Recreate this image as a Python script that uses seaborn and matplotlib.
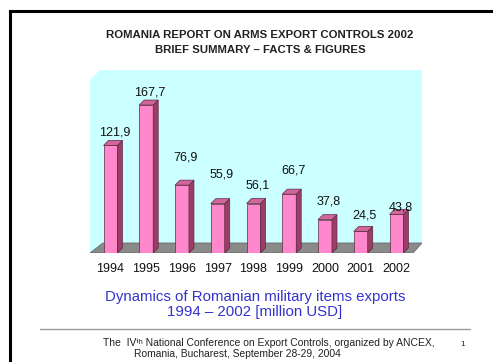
import matplotlib
matplotlib.use("Agg")
import matplotlib.pyplot as plt
from matplotlib.patches import Polygon
from matplotlib.lines import Line2D
import seaborn as sns
import pandas as pd

# values (million USD, comma decimals on the labels)
years = ["1994", "1995", "1996", "1997", "1998", "1999", "2000", "2001", "2002"]
exports = [121.9, 167.7, 76.9, 55.9, 56.1, 66.7, 37.8, 24.5, 43.8]
value_labels = ["121,9", "167,7", "76,9", "55,9", "56,1", "66,7", "37,8", "24,5", "43,8"]

# how far (px) each value label sits above its bar, like the excel slide
label_lift = [13, 13, 28, 29, 18, 24, 18, 16, 7]

df = pd.DataFrame({"year": years, "exports": exports})

W, H = 493, 362
sns.set_style("white")
plt.rcParams["font.family"] = ["Liberation Sans", "DejaVu Sans"]

fig = plt.figure(figsize=(W / 100, H / 100), dpi=100)

# axes box in pixels (the cyan back wall)
ax_l, ax_r, ax_t, ax_b = 90, 422, 70, 253
ax = fig.add_axes([ax_l / W, 1 - ax_b / H, (ax_r - ax_l) / W, (ax_b - ax_t) / H])
ax.set_facecolor("none")
aw, ah = ax_r - ax_l, ax_b - ax_t

# back wall with the cut top-left corner
wall = Polygon([(0, 0), (0, (ah - 10) / ah), (10 / aw, 1), (1, 1), (1, 10 / ah)],
               closed=True, transform=ax.transAxes, facecolor="#CCFFFF",
               edgecolor="none", zorder=0)
ax.add_patch(wall)

# grey floor
floor = Polygon([(0, 0), ((aw - 9) / aw, 0), (1, 10 / ah), (13 / aw, 10 / ah)],
                closed=True, transform=ax.transAxes, facecolor="#8A8A8A",
                edgecolor="#6A6A6A", lw=0.6, zorder=1)
ax.add_patch(floor)

sns.barplot(data=df, x="year", y="exports", color="#FF88CC", saturation=1,
            width=0.39, edgecolor="#5A2A40", linewidth=0.5, ax=ax, zorder=3)

ax.set_xlim(-0.573, 8.713)
ax.set_ylim(0, 207.4)

# 3d side and top faces
ux = (8.713 + 0.573) / aw
uy = 207.4 / ah
dx, dy = 5 * ux, 5 * uy
for bar in list(ax.patches[2:]):
    x0 = bar.get_x()
    x1 = x0 + bar.get_width()
    h = bar.get_height()
    side = Polygon([(x1, 0), (x1 + dx, dy), (x1 + dx, h + dy), (x1, h)], closed=True,
                   facecolor="#9C3D68", edgecolor="#5A2A40", lw=0.5, zorder=3)
    top = Polygon([(x0, h), (x0 + dx, h + dy), (x1 + dx, h + dy), (x1, h)], closed=True,
                  facecolor="#D0669A", edgecolor="#5A2A40", lw=0.5, zorder=3)
    ax.add_patch(side)
    ax.add_patch(top)

for i, (v, lab) in enumerate(zip(exports, value_labels)):
    ax.annotate(lab, (i, v), xytext=(4, label_lift[i]), textcoords="offset pixels",
                ha="center", va="center", fontsize=9, color="#111111", zorder=5)

sns.despine(ax=ax, left=True, bottom=True)
ax.set_xlabel("")
ax.set_ylabel("")
ax.set_yticks([])
ax.tick_params(axis="x", length=0, pad=7.5, labelsize=9, labelcolor="#111111")

# slide titles
fig.text(260 / W, 1 - 35 / H, "ROMANIA REPORT ON ARMS EXPORT CONTROLS 2002",
         ha="center", va="center", fontsize=8.2, fontweight="bold", color="#222222")
fig.text(260 / W, 1 - 50 / H, "BRIEF SUMMARY \u2013 FACTS & FIGURES",
         ha="center", va="center", fontsize=8.2, fontweight="bold", color="#222222")

fig.text(255 / W, 1 - 297 / H, "Dynamics of Romanian military items exports",
         ha="center", va="center", fontsize=10.8, color="#3333CC")
fig.text(255 / W, 1 - 312 / H, "1994 \u2013 2002 [million USD]",
         ha="center", va="center", fontsize=10.8, color="#3333CC")

# footer
fig.add_artist(Line2D([40 / W, 470 / W], [1 - 329 / H, 1 - 329 / H],
                      transform=fig.transFigure, color="#999999", lw=1))
fig.text(269 / W, 1 - 343 / H,
         "The  IV\u1d57\u02b0 National Conference on Export Controls, organized by ANCEX,",
         ha="center", va="center", fontsize=7.5, color="#222222")
fig.text(237 / W, 1 - 354 / H, "Romania, Bucharest, September 28-29, 2004",
         ha="center", va="center", fontsize=7.4, color="#222222")
fig.text(463 / W, 1 - 345 / H, "1", ha="center", va="center", fontsize=6, color="#222222")

# black slide border (left and top)
fig.add_artist(Line2D([9.5 / W, 9.5 / W], [0, 1 - 11 / H], transform=fig.transFigure,
                      color="black", lw=2.2, solid_capstyle="projecting"))
fig.add_artist(Line2D([9.5 / W, 1], [1 - 11 / H, 1 - 11 / H], transform=fig.transFigure,
                      color="black", lw=2.2, solid_capstyle="projecting"))

fig.savefig("out.png", dpi=100)
